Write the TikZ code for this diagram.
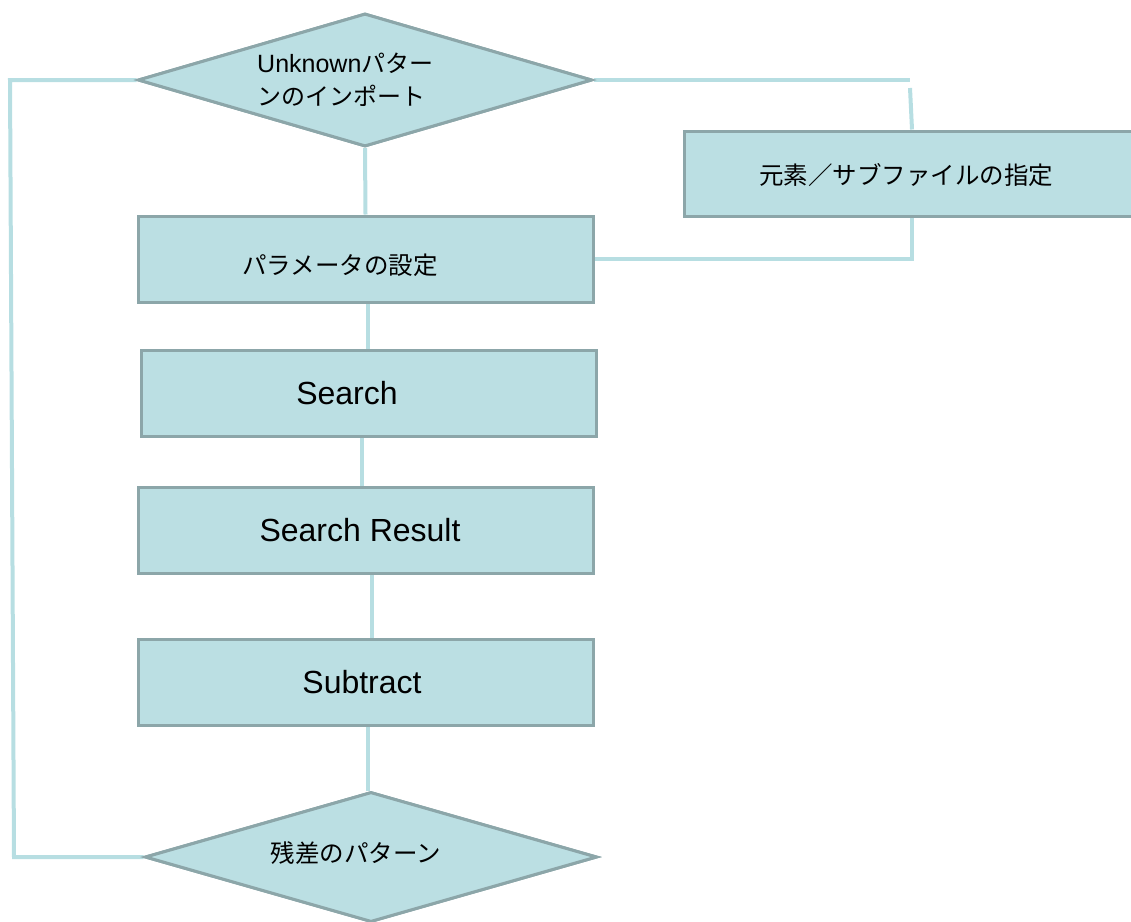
\documentclass[tikz,border=0pt]{standalone}
\usepackage{fontspec}
\setmainfont{Liberation Sans}
\newfontfamily\jp{Noto Sans CJK JP}
\usetikzlibrary{shapes.geometric}
\definecolor{boxfill}{HTML}{BBDFE3}
\definecolor{boxedge}{HTML}{8CA6A9}
\definecolor{conn}{HTML}{B7DEE2}
\tikzset{
  procbox/.style={draw=boxedge, fill=boxfill, line width=3pt, rectangle, minimum width=455pt, minimum height=86pt, inner sep=0pt},
  decision/.style={draw=boxedge, fill=boxfill, line width=3pt, diamond, inner sep=0pt},
  connline/.style={draw=conn, line width=4pt},
  jptext/.style={font=\jp\fontsize{24.5}{33}\selectfont, text=black},
  entext/.style={font=\fontsize{32}{38}\selectfont, text=black}
}
\begin{document}
\begin{tikzpicture}[x=1pt,y=-1pt]
\useasboundingbox (0,0) rectangle (1131,921);
\coordinate (L1) at (14,857);
\coordinate (L2) at (10,80);
\coordinate (R1) at (910,80);
\coordinate (R2) at (910,88);

% node positions (drawn once for naming, connectors, then drawn again on top)
\node[decision, minimum width=454pt, minimum height=133pt] (top) at (365,80) {};
\node[procbox] (param) at (365.5,259) {};
\node[procbox] (search) at (368.5,393.5) {};
\node[procbox] (result) at (365.5,530) {};
\node[procbox] (subtract) at (365.5,682) {};
\node[decision, minimum width=452pt, minimum height=130pt] (bot) at (371,857) {};
\node[procbox, minimum width=456pt, minimum height=85pt] (elem) at (912,173.5) {};

\path[connline] (top.south) -- (param.north);
\path[connline] (param.south -| 368,0) -- (search.north -| 368,0);
\path[connline] (search.south -| 362,0) -- (result.north -| 362,0);
\path[connline] (result.south -| 372,0) -- (subtract.north -| 372,0);
\path[connline] (subtract.south -| 368,0) -- (bot.north -| 368,0);
\path[connline] (bot.west) -- (L1) -- (L2) -- (top.west);
\path[connline] (top.east) -- (R1);
\path[connline] (R2) -- (elem.north);
\path[connline] (elem.south) |- (param.east);

\node[decision, minimum width=454pt, minimum height=133pt] at (365,80) {};
\node[procbox] at (365.5,259) {};
\node[procbox] at (368.5,393.5) {};
\node[procbox] at (365.5,530) {};
\node[procbox] at (365.5,682) {};
\node[decision, minimum width=452pt, minimum height=130pt] at (371,857) {};
\node[procbox, minimum width=456pt, minimum height=85pt] at (912,173.5) {};

% texts
\node[anchor=base west, inner sep=0pt, font=\fontsize{25}{33}\selectfont] (topline1) at (257,72)
  {Unknown{\jp\fontsize{24}{33}\selectfont パター}};
\node[anchor=base west, inner sep=0pt, font=\jp\fontsize{24}{33}\selectfont] (topline2) at (257,105)
  {ンのインポート};
\node[jptext] (paramtext) at (340,265) {パラメータの設定};
\node[entext] (searchtext) at (347,393) {Search};
\node[entext] (resulttext) at (360,530) {Search Result};
\node[entext] (subtracttext) at (362,682) {Subtract};
\node[jptext] (bottext) at (356,853) {残差のパターン};
\node[jptext] (elemtext) at (906,175) {元素／サブファイルの指定};
\end{tikzpicture}
\end{document}
